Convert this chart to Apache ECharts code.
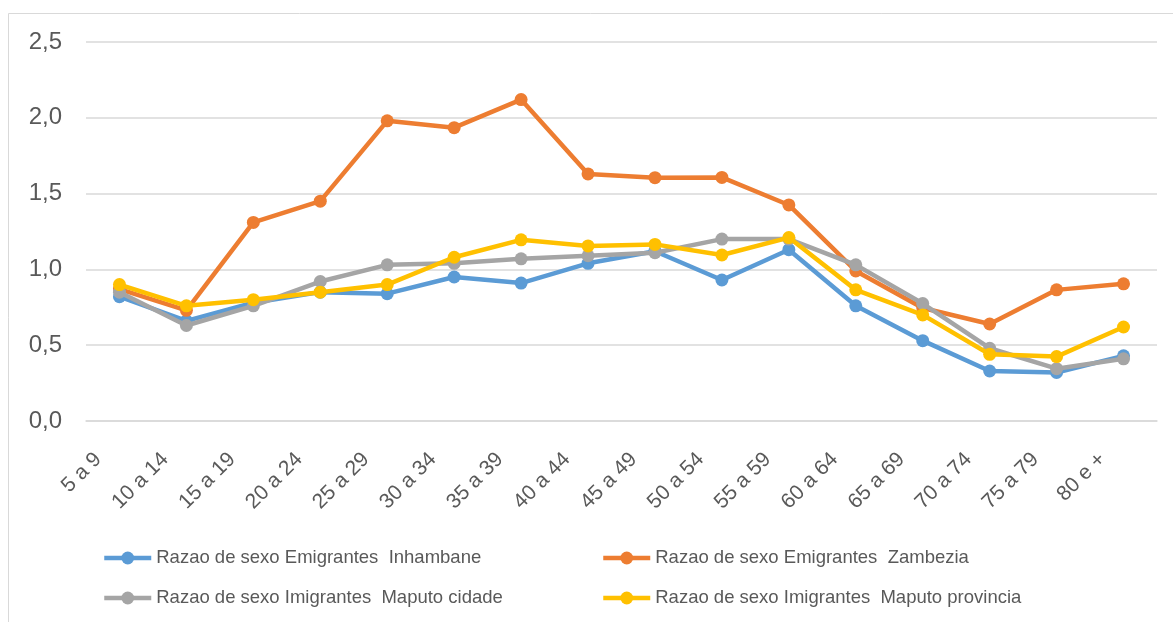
<!DOCTYPE html>
<html>
<head>
<meta charset="utf-8">
<script src="https://cdn.jsdelivr.net/npm/echarts@6/dist/echarts.min.js"></script>
<style>
html,body{margin:0;padding:0;background:#fff;}
#c{width:1173px;height:622px;}
</style>
</head>
<body>
<div id="c"></div>
<script>
const categories = ['5 a 9','10 a 14','15 a 19','20 a 24','25 a 29','30 a 34','35 a 39','40 a 44','45 a 49','50 a 54','55 a 59','60 a 64','65 a 69','70 a 74','75 a 79','80 e +'];
const yTicks = [0, 0.5, 1.0, 1.5, 2.0, 2.5];
const inhambane = [0.82, 0.66, 0.78, 0.85, 0.84, 0.95, 0.91, 1.04, 1.12, 0.93, 1.13, 0.76, 0.53, 0.33, 0.32, 0.43];
const zambezia = [0.87, 0.73, 1.31, 1.45, 1.98, 1.935, 2.12, 1.63, 1.605, 1.607, 1.425, 0.99, 0.745, 0.64, 0.865, 0.905];
const maputoCidade = [0.85, 0.63, 0.76, 0.92, 1.03, 1.04, 1.07, 1.09, 1.11, 1.20, 1.20, 1.03, 0.775, 0.48, 0.345, 0.41];
const maputoProvincia = [0.90, 0.76, 0.80, 0.85, 0.90, 1.08, 1.195, 1.155, 1.165, 1.095, 1.21, 0.865, 0.70, 0.44, 0.425, 0.62];

const names = ['Razao de sexo Emigrantes  Inhambane','Razao de sexo Emigrantes  Zambezia','Razao de sexo Imigrantes  Maputo cidade','Razao de sexo Imigrantes  Maputo provincia'];
const colors = ['#5B9BD5','#ED7D31','#A5A5A5','#FFC000'];
const datas = [inhambane, zambezia, maputoCidade, maputoProvincia];

const chart = echarts.init(document.getElementById('c'), null, {renderer:'canvas'});
const font = 'Arial, "Liberation Sans", sans-serif';
const legendCommon = {
  orient: 'vertical',
  top: 542,
  itemWidth: 47,
  itemHeight: 16,
  itemGap: 18,
  lineStyle: {width: 4.5},
  textStyle: {fontFamily: font, fontSize: 18.5, color: '#595959', lineHeight: 22},
  selectedMode: false
};
chart.setOption({
  animation: false,
  backgroundColor: '#fff',
  color: colors,
  graphic: [{
    type: 'polyline',
    shape: {points: [[8.5, 622], [8.5, 13.5], [1173, 13.5]]},
    style: {stroke: '#D9D9D9', lineWidth: 1, fill: null}
  }],
  grid: {left: 86, right: 16, top: 42, bottom: 201, containLabel: false},
  legend: [
    Object.assign({}, legendCommon, {left: 97, data: [names[0], names[2]]}),
    Object.assign({}, legendCommon, {left: 596, data: [names[1], names[3]]})
  ],
  xAxis: {
    type: 'category',
    data: categories,
    boundaryGap: true,
    axisLine: {show: true, lineStyle: {color: '#D9D9D9', width: 1.5}},
    axisTick: {show: false},
    axisLabel: {rotate: 45, interval: 0, margin: 14, padding: [0, 30, 0, 0], fontFamily: font, fontSize: 21, color: '#595959'}
  },
  yAxis: {
    type: 'value',
    min: yTicks[0],
    max: yTicks[yTicks.length - 1],
    interval: 0.5,
    axisLine: {show: false},
    axisTick: {show: false},
    splitLine: {lineStyle: {color: '#D9D9D9', width: 1.5}},
    axisLabel: {margin: 24, fontFamily: font, fontSize: 24, color: '#595959',
      formatter: v => v.toFixed(1).replace('.', ',')}
  },
  series: datas.map((d, i) => ({
    name: names[i],
    type: 'line',
    data: d,
    symbol: 'circle',
    symbolSize: 13,
    lineStyle: {width: 4.5, color: colors[i]},
    itemStyle: {color: colors[i]},
    z: 2 + i
  }))
});
</script>
</body>
</html>
